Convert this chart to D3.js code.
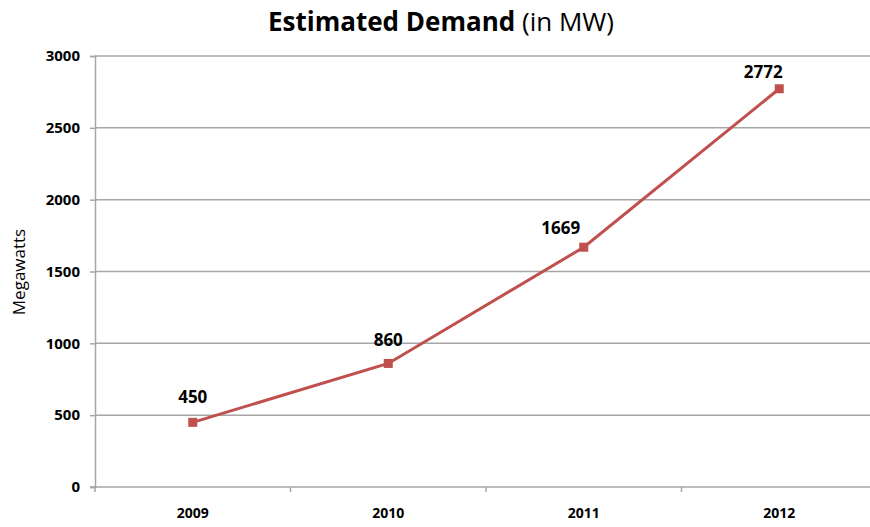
<!doctype html>
<html>
<head>
    <style>
        body { margin: 0; background: #fff; }
        text { font-family: "Open Sans", sans-serif; fill: #000; }
    </style>
    <script src="https://d3js.org/d3.v7.min.js"></script>
</head>
<body>
<svg id="chart" width="870" height="527"></svg>
<script>
    var years = ["2009", "2010", "2011", "2012"];
    var demand = [450, 860, 1669, 2772];
    var yTicks = [0, 500, 1000, 1500, 2000, 2500, 3000];

    // excel nudged a couple of labels sideways
    var labelShift = [[0, -25], [0, -23], [-23, -19], [-16, -17]];

    var svg = d3.select("#chart"),
        plotLeft = 95,
        plotRight = 877,
        plotTop = 56,
        plotBottom = 487;

    var xScale = d3.scaleBand().domain(years).range([plotLeft, plotRight]),
        yScale = d3.scaleLinear().domain([0, 3000]).range([plotBottom, plotTop]);

    // title
    var title = svg.append("text")
       .attr("x", 441)
       .attr("y", 31)
       .attr("text-anchor", "middle")
       .attr("font-size", "26px");
    title.append("tspan").attr("font-weight", "bold").text("Estimated Demand");
    title.append("tspan").text(" (in MW)");

    // gridlines
    svg.append("g")
       .selectAll("line")
       .data(yTicks.slice(1))
       .enter().append("line")
       .attr("x1", plotLeft)
       .attr("x2", 870)
       .attr("y1", function(d) { return yScale(d); })
       .attr("y2", function(d) { return yScale(d); })
       .attr("stroke", "#a6a6a6")
       .attr("stroke-width", 1.5);

    // y axis
    var yAxis = svg.append("g")
       .attr("transform", "translate(" + plotLeft + ",0)")
       .call(d3.axisLeft(yScale).tickValues(yTicks).tickFormat(function(d) { return d; })
             .tickSize(5).tickPadding(10));
    yAxis.select(".domain").attr("stroke", "#a6a6a6").attr("stroke-width", 1.5);
    yAxis.selectAll(".tick line").attr("stroke", "#a6a6a6").attr("stroke-width", 1.5);
    yAxis.selectAll(".tick text")
       .attr("font-family", "Open Sans, sans-serif")
       .attr("font-size", "15px")
       .attr("font-weight", "bold")
       .attr("fill", "#000");

    // x axis, ticks sit between categories
    var xAxis = svg.append("g")
       .attr("transform", "translate(0," + plotBottom + ")");
    xAxis.append("line")
       .attr("x1", plotLeft - 5)
       .attr("x2", 870)
       .attr("stroke", "#a6a6a6")
       .attr("stroke-width", 1.5);
    xAxis.selectAll(".bt")
       .data(years)
       .enter().append("line")
       .attr("class", "bt")
       .attr("x1", function(d) { return xScale(d); })
       .attr("x2", function(d) { return xScale(d); })
       .attr("y1", 0)
       .attr("y2", 5)
       .attr("stroke", "#a6a6a6")
       .attr("stroke-width", 1.5);
    xAxis.selectAll(".lbl")
       .data(years)
       .enter().append("text")
       .attr("class", "lbl")
       .attr("x", function(d) { return xScale(d) + xScale.bandwidth() / 2; })
       .attr("y", 31)
       .attr("text-anchor", "middle")
       .attr("font-size", "14px")
       .attr("font-weight", "bold")
       .text(function(d) { return d; });

    // y title
    svg.append("text")
       .attr("transform", "translate(25,272) rotate(-90)")
       .attr("text-anchor", "middle")
       .attr("font-size", "17px")
       .text("Megawatts");

    var pts = years.map(function(y, i) {
        return [xScale(y) + xScale.bandwidth() / 2, yScale(demand[i])];
    });

    svg.append("path")
       .attr("d", d3.line()(pts))
       .attr("fill", "none")
       .attr("stroke", "#c0504d")
       .attr("stroke-width", 3);

    svg.selectAll(".mk")
       .data(pts)
       .enter().append("rect")
       .attr("class", "mk")
       .attr("x", function(d) { return d[0] - 4.5; })
       .attr("y", function(d) { return d[1] - 4.5; })
       .attr("width", 9)
       .attr("height", 9)
       .attr("fill", "#c0504d");

    svg.selectAll(".val")
       .data(pts)
       .enter().append("text")
       .attr("class", "val")
       .attr("x", function(d, i) { return d[0] + labelShift[i][0]; })
       .attr("y", function(d, i) { return d[1] + labelShift[i][1] + 6; })
       .attr("text-anchor", "middle")
       .attr("font-size", "17px")
       .attr("font-weight", "bold")
       .text(function(d, i) { return demand[i]; });
</script>
</body>
</html>
